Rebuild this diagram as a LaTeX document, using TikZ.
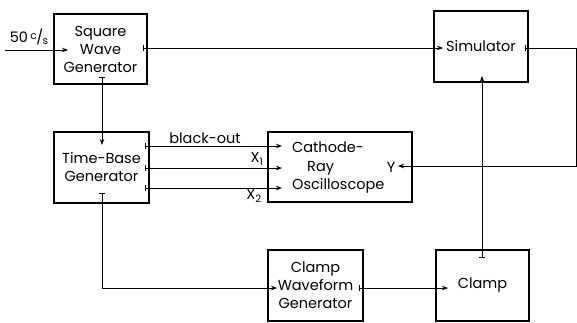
\documentclass[tikz,border=0pt]{standalone}
\usepackage{fontspec}
\setmainfont{Poppins}
\usetikzlibrary{arrows.meta}
\begin{document}
\begin{tikzpicture}[x=1pt,y=-1pt,
  box/.style={draw,line width=1.4pt,inner sep=0pt,font=\fontsize{14.5}{18}\selectfont,align=center},
  lab/.style={inner sep=0pt,font=\fontsize{14.5}{18.5}\selectfont},
  sig/.style={line width=0.8pt,-{Stealth[length=6pt,width=4.5pt]}},
  tsig/.style={line width=0.8pt,{Bar[width=6pt]}-{Stealth[length=6pt,width=4.5pt]}}
]
\useasboundingbox (0,0) rectangle (577,322);
% boxes
\node[box,minimum width=93pt,minimum height=70pt] (sq) at (100.5,49) {Square\\Wave\\Generator};
\node[box,minimum width=94pt,minimum height=71pt] (sim) at (481,46.5) {\raisebox{-2pt}{Simulator}};
\node[box,minimum width=95pt,minimum height=71pt] (tb) at (101.5,167.5) {Time-Base\\Generator};
\node[box,minimum width=144pt,minimum height=70pt] (cro) at (340,167) {};
\node[lab,anchor=west,align=left] (crot) at (292,168) {Cathode-\\\hspace{15pt}Ray\\Oscilloscope};
\node[lab] (ylab) at (391,167) {Y};
\node[box,minimum width=95pt,minimum height=71pt] (cwg) at (315.5,285.5) {Clamp\\Waveform\\Generator};
\node[box,minimum width=93pt,minimum height=71pt] (clamp) at (482.5,285.5) {\raisebox{-3pt}{Clamp}};
% labels
\node[lab] (in50) at (29,37) {50\,\raisebox{0.35ex}{\fontsize{10.5}{10}\selectfont c}\kern-0.5pt/\kern-0.5pt\raisebox{-0.25ex}{\fontsize{10.5}{10}\selectfont s}};
\node[lab] (bo) at (205,138) {black-out};
\node[lab] (x1) at (257,159) {X\textsubscript{1}};
\node[lab] (x2) at (254,196) {X\textsubscript{2}};
% connector end points
\coordinate (inA) at (5,50);
\coordinate (sqin) at (68,50);
\coordinate (sqout) at (143,48);
\coordinate (simin) at (443,48);
\coordinate (sqdown) at (102,77);
\coordinate (tbin) at (102,145);
\coordinate (tbo1) at (145,146);
\coordinate (tbo2) at (145,168);
\coordinate (tbo3) at (145,188);
\coordinate (croi1) at (282,146);
\coordinate (croi2) at (282,168);
\coordinate (croi3) at (282,188);
\coordinate (tbdown) at (102,193);
\coordinate (cwgin) at (277,288);
\coordinate (cwgout) at (359,288);
\coordinate (clampin) at (448,288);
\coordinate (clampup) at (482,258);
\coordinate (simbot) at (482,76);
\coordinate (simout) at (525,48);
\coordinate (rt) at (576,48);
\coordinate (croy) at (398,166);
% connectors
\draw[sig] (inA) -- (sqin);
\draw[tsig] (sqout) -- (simin);
\draw[tsig] (sqdown) -- (tbin);
\draw[tsig] (tbo1) -- (croi1);
\draw[tsig] (tbo2) -- (croi2);
\draw[tsig] (tbo3) -- (croi3);
\draw[tsig] (tbdown) |- (cwgin);
\draw[tsig] (cwgout) -- (clampin);
\draw[tsig] (clampup) -- (simbot);
\draw[tsig] (simout) -- (rt) |- (croy);
\end{tikzpicture}
\end{document}
